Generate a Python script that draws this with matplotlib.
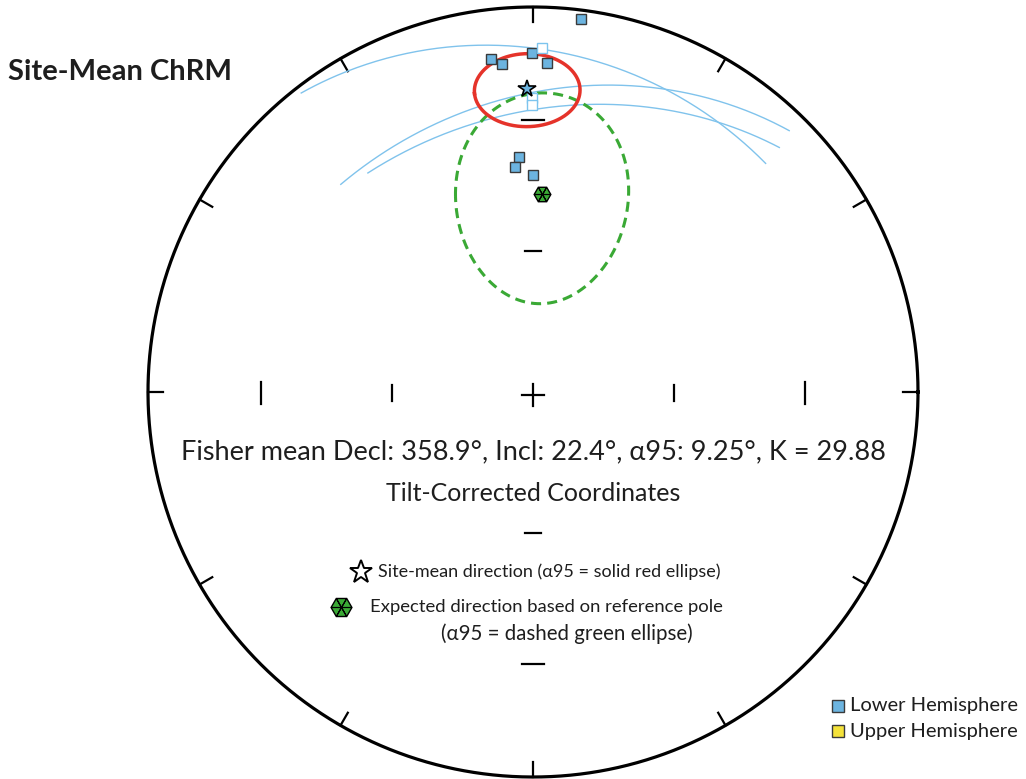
import numpy as np
import matplotlib
matplotlib.use('Agg')
import matplotlib.pyplot as plt

plt.rcParams['font.family'] = ['Lato', 'DejaVu Sans']

# Directions of the specimens (declination, inclination), lower hemisphere
lower_dec = [7.3, 352.8, 354.6, 359.8, 2.4, 356.6, 355.4, 0.0]
lower_inc = [2.6, 13.9, 15.5, 13.0, 15.6, 38.8, 41.0, 43.0]

# Endpoints of the great-circle fits (open squares)
gc_dec = [1.5, 359.8, 359.8]
gc_inc = [11.6, 24.6, 26.4]

# Remagnetisation great circles: dip direction, dip, arc start/end angle from strike
circ_dipdir = [45.5, 325.1, 334.5]
circ_dip = [16.4, 27.6, 30.0]
circ_t0 = [7.0, 83.0, 80.0]
circ_t1 = [90.0, 168.0, 158.0]

# Fisher site mean
mean_dec, mean_inc, a95, kappa = 358.9, 22.4, 9.25, 29.88

# Expected direction from reference pole, cone half-angles across / along the meridian
exp_dec, exp_inc = 2.6, 47.3
exp_across, exp_along = 17.0, 24.0


def proj(dec, inc):
    # equal-area (Schmidt) projection, unit primitive
    dec = np.radians(np.asarray(dec, dtype=float))
    inc = np.radians(np.asarray(inc, dtype=float))
    r = np.sqrt(2) * np.sin((np.pi / 2 - inc) / 2)
    return r * np.sin(dec), r * np.cos(dec)


def vec2dir(n, e, d):
    dec = np.degrees(np.arctan2(e, n)) % 360
    inc = np.degrees(np.arcsin(np.clip(d, -1, 1)))
    return dec, inc


def great_arc(dipdir, dip, t0, t1):
    t = np.radians(np.linspace(t0, t1, 200))
    s = np.radians(dipdir - 90)
    dd, dp = np.radians(dipdir), np.radians(dip)
    u = np.array([np.cos(s), np.sin(s), 0.0])
    v = np.array([np.cos(dp) * np.cos(dd), np.cos(dp) * np.sin(dd), np.sin(dp)])
    p = np.outer(np.cos(t), u) + np.outer(np.sin(t), v)
    return proj(*vec2dir(p[:, 0], p[:, 1], p[:, 2]))


def cone(dec, inc, a_across, a_along):
    # elliptical cone around (dec, inc); equal half-angles give a small circle
    d, i = np.radians(dec), np.radians(inc)
    c = np.array([np.cos(i) * np.cos(d), np.cos(i) * np.sin(d), np.sin(i)])
    a = np.cross(c, [0, 0, 1.0])
    a /= np.linalg.norm(a)
    b = np.cross(c, a)
    t = np.linspace(0, 2 * np.pi, 300)
    p = (c[None, :] + np.tan(np.radians(a_across)) * np.outer(np.cos(t), a)
         + np.tan(np.radians(a_along)) * np.outer(np.sin(t), b))
    p /= np.linalg.norm(p, axis=1)[:, None]
    return proj(*vec2dir(p[:, 0], p[:, 1], p[:, 2]))


fig = plt.figure(figsize=(10.26, 7.79), dpi=100)
ax = fig.add_axes([0, 0, 1, 1])
R, cx, cy = 385.0, 533.0, 392.0
ax.set_xlim(-cx / R, (1026 - cx) / R)
ax.set_ylim((cy - 779) / R, cy / R)
ax.axis('off')

# primitive circle with 30 degree ticks
th = np.linspace(0, 2 * np.pi, 500)
ax.plot(np.cos(th), np.sin(th), color='black', lw=2.3, zorder=3)
for az in range(0, 360, 30):
    a = np.radians(az)
    ax.plot([np.sin(a), 0.962 * np.sin(a)], [np.cos(a), 0.962 * np.cos(a)],
            color='black', lw=1.6, zorder=3)

# centre cross and inclination ticks on the axes
h = 11 / R
ax.plot([-h, h], [-3 / R, -3 / R], color='black', lw=1.6)
ax.plot([0, 0], [-3 / R - h, -3 / R + h], color='black', lw=1.6)
for inc_mark, half in [(30, 11 / R), (60, 8 / R)]:
    r = proj(0, inc_mark)[1]
    for sgn in (-1, 1):
        ax.plot([sgn * r, sgn * r], [-half - 1 / R, half - 1 / R], color='black', lw=1.6)
        ax.plot([-half, half], [sgn * r, sgn * r], color='black', lw=1.6)

# great circles
for k in range(len(circ_dipdir)):
    x, y = great_arc(circ_dipdir[k], circ_dip[k], circ_t0[k], circ_t1[k])
    ax.plot(x, y, color='#80c3ec', lw=1.0, zorder=4)

# expected direction confidence ellipse (dashed green)
ex, ey = cone(exp_dec, exp_inc, exp_across, exp_along)
ax.plot(ex, ey, color='#3aa935', lw=2.2, ls=(0, (3.3, 2.0)), zorder=5)

# alpha95 cone of the site mean (solid red)
rx, ry = cone(mean_dec, mean_inc, a95, a95)
ax.plot(rx, ry, color='#e5332a', lw=2.5, zorder=5)

# specimen directions
x, y = proj(lower_dec, lower_inc)
ax.plot(x, y, 's', ms=7.5, mfc='#6cb4e0', mec='#3a3a3a', mew=1.0, ls='none', zorder=6)
x, y = proj(gc_dec, gc_inc)
ax.plot(x, y, 's', ms=7.5, mfc='white', mec='#7cc4ee', mew=1.0, ls='none', zorder=6)

# site mean and expected direction
x, y = proj(mean_dec, mean_inc)
ax.plot(x, y, '*', ms=13, mfc='#6cb4e0', mec='black', mew=1.2, zorder=7)
x, y = proj(exp_dec, exp_inc)
ax.plot(x, y, 'H', ms=12, mfc='#3aa935', mec='black', mew=1.0, zorder=7)
ax.plot(x, y, marker=(6, 2, 30), ms=11, mec='black', mew=0.8, zorder=8)

# text block
W, H = 1026.0, 779.0


def ftxt(px, py, s, **kw):
    fig.text(px / W, 1 - py / H, s, va='center', color='#1e1e1e', **kw)


ftxt(8, 72, 'Site-Mean ChRM', ha='left', fontsize=21, fontweight='bold')
ftxt(533, 452, 'Fisher mean Decl: %.1f°, Incl: %.1f°, α95: %.2f°, K = %.2f'
     % (mean_dec, mean_inc, a95, kappa), ha='center', fontsize=19.5)
ftxt(533, 493, 'Tilt-Corrected Coordinates', ha='center', fontsize=18)
ftxt(378, 572, 'Site-mean direction (α95 = solid red ellipse)', ha='left', fontsize=13)
ftxt(370, 607, 'Expected direction based on reference pole', ha='left', fontsize=13.3)
ftxt(441, 634, '(α95 = dashed green ellipse)', ha='left', fontsize=14.8)
ftxt(850, 706, 'Lower Hemisphere', ha='left', fontsize=14.5)
ftxt(850, 731, 'Upper Hemisphere', ha='left', fontsize=14.5)

# legend symbols
tf = fig.transFigure
ax.plot([361 / W], [1 - 572 / H], '*', ms=17, mfc='white', mec='black', mew=1.4, transform=tf)
ax.plot([341 / W], [1 - 607 / H], 'H', ms=15, mfc='#3aa935', mec='black', mew=1.0, transform=tf)
ax.plot([341 / W], [1 - 607 / H], marker=(6, 2, 30), ms=14, mec='black', mew=0.8, transform=tf)
ax.plot([838 / W], [1 - 706 / H], 's', ms=8.5, mfc='#6cb4e0', mec='#3a3a3a', mew=1.0, transform=tf)
ax.plot([838 / W], [1 - 731 / H], 's', ms=8.5, mfc='#f4e23a', mec='#3a3a3a', mew=1.0, transform=tf)

fig.savefig('out.png', dpi=100)
